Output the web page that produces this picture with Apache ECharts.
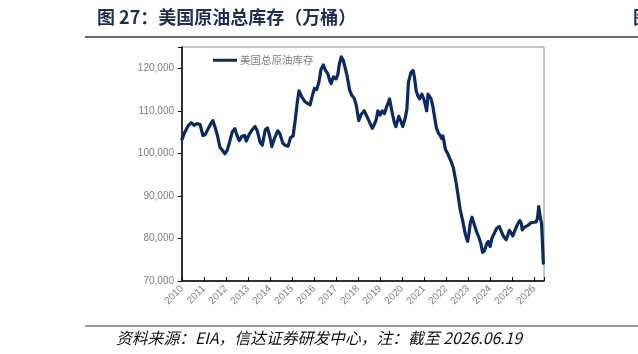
<!DOCTYPE html>
<html>
<head>
<meta charset="utf-8">
<script src="https://cdn.jsdelivr.net/npm/echarts@6/dist/echarts.min.js"></script>
<style>
  html, body { margin: 0; padding: 0; background: #fff; }
  #stock { width: 638px; height: 354px; }
</style>
</head>
<body>
<div id="stock"></div>
<script>
// 时间（以年为单位的小数）与美国原油总库存（万桶）
const dateYears = [
  2010.00, 2010.12, 2010.28, 2010.42, 2010.55, 2010.68, 2010.82, 2010.95,
  2011.05, 2011.18, 2011.30, 2011.40, 2011.50, 2011.62, 2011.72, 2011.85, 2011.95,
  2012.05, 2012.15, 2012.28, 2012.40, 2012.50, 2012.60, 2012.72, 2012.85, 2012.92,
  2013.05, 2013.18, 2013.32, 2013.42, 2013.55, 2013.65, 2013.78, 2013.88, 2013.98,
  2014.08, 2014.20, 2014.35, 2014.45, 2014.58, 2014.72, 2014.82, 2014.93,
  2015.05, 2015.15, 2015.25, 2015.32, 2015.45, 2015.58, 2015.72, 2015.82, 2015.92,
  2016.02, 2016.12, 2016.22, 2016.32, 2016.42, 2016.52, 2016.62, 2016.72, 2016.78, 2016.88,
  2017.00, 2017.08, 2017.15, 2017.24, 2017.32, 2017.42, 2017.50, 2017.62, 2017.72, 2017.82, 2017.92,
  2018.03, 2018.15, 2018.28, 2018.42, 2018.55, 2018.65, 2018.72, 2018.83, 2018.90,
  2019.00, 2019.10, 2019.20, 2019.30, 2019.38, 2019.43, 2019.55, 2019.65, 2019.72, 2019.85, 2019.95,
  2020.03, 2020.15, 2020.22, 2020.29, 2020.40, 2020.50, 2020.56, 2020.64, 2020.72, 2020.80, 2020.90,
  2021.00, 2021.08, 2021.12, 2021.18, 2021.26, 2021.32, 2021.40, 2021.48, 2021.56, 2021.65, 2021.72, 2021.80, 2021.86, 2021.97,
  2022.07, 2022.15, 2022.25, 2022.33, 2022.43, 2022.53, 2022.64, 2022.76, 2022.88, 2022.98,
  2023.05, 2023.10, 2023.18, 2023.28, 2023.38, 2023.50, 2023.58, 2023.66, 2023.75, 2023.85, 2023.92,
  2024.00, 2024.08, 2024.20, 2024.30, 2024.42, 2024.48, 2024.57, 2024.65, 2024.73, 2024.82, 2024.88, 2024.95,
  2025.03, 2025.12, 2025.20, 2025.28, 2025.35, 2025.42, 2025.46, 2025.55, 2025.62, 2025.70, 2025.78, 2025.86, 2025.92,
  2026.00, 2026.10, 2026.16, 2026.21, 2026.26, 2026.30, 2026.34, 2026.42
];
const stocks = [
  103300, 104900, 106500, 107200, 106600, 107000, 106800, 104200,
  104400, 105700, 106900, 107700, 106200, 104000, 101500, 100600, 99900,
  100700, 102400, 105000, 105800, 104200, 103000, 104000, 104200, 102900,
  104400, 105500, 106300, 105300, 102600, 101900, 105500, 106000, 104200,
  101600, 103500, 105300, 104600, 102400, 101800, 101700, 103700,
  104100, 108000, 112500, 114700, 113200, 112200, 111700, 111400, 113500,
  115300, 115000, 116700, 119800, 120800, 119500, 118800, 117000, 116400, 118000,
  117500, 118500, 121000, 122700, 122000, 120000, 118300, 114800, 113600, 113000, 111300,
  107700, 109200, 110000, 108500, 107000, 105900, 106600, 108000, 110000,
  109000, 110000, 109300, 111000, 112000, 112800, 109600, 107200, 106300, 108700, 107500,
  106300, 108400, 110500, 116700, 119000, 119500, 118000, 114700, 113500, 112800, 113900,
  112600, 112500, 110000, 113900, 113500, 112800, 111000, 108500, 106000, 104800, 104300, 103500, 104100, 100900,
  100000, 99000, 97800, 96600, 93900, 90700, 86800, 84000, 80900, 79300,
  81500, 83600, 85000, 83300, 81700, 80100, 78800, 76700, 77200, 78800, 79300,
  78100, 80000, 81300, 82400, 82800, 83100, 80900, 80200, 79700, 81000, 81900, 81300,
  80600, 81800, 82800, 83600, 84200, 83500, 82000, 82600, 82500, 83000, 82800, 83700, 84000,
  83800, 83900, 85000, 87500, 87200, 84400, 83600, 74200
];
const yTicks = [70000, 80000, 90000, 100000, 110000, 120000];

let myChart = echarts.init(document.getElementById("stock"));
const axisColor = "#000";
const labelColor = "#7f7f7f";
let seriesData = dateYears.map((t, i) => [t, stocks[i]]);

let option = {
  animation: false,
  textStyle: { fontFamily: "Liberation Sans, Arial, sans-serif" },
  grid: {
    left: 182,
    top: 47,
    right: 94,
    bottom: 73,
    show: true,
    borderColor: "#8c8c8c",
    borderWidth: 1
  },
  graphic: [
    {
      type: "text",
      left: 97,
      top: 8,
      style: {
        text: "图 27：美国原油总库存（万桶）",
        font: "bold 18px 'Noto Sans CJK SC', sans-serif",
        fill: "#1f2f54"
      }
    },
    {
      type: "text",
      left: 633,
      top: 8,
      style: {
        text: "图",
        font: "bold 18px 'Noto Sans CJK SC', sans-serif",
        fill: "#1f2f54"
      }
    },
    {
      type: "line",
      shape: { x1: 85, y1: 37, x2: 638, y2: 37 },
      style: { stroke: "#3a3a3a", lineWidth: 1.5 }
    },
    {
      type: "line",
      shape: { x1: 85, y1: 326, x2: 638, y2: 326 },
      style: { stroke: "#3a3a3a", lineWidth: 1.2 }
    },
    {
      type: "text",
      left: 116,
      top: 330,
      style: {
        text: "资料来源：EIA，信达证券研发中心，注：截至 2026.06.19",
        font: "italic 15.8px 'Noto Sans CJK SC', sans-serif",
        fill: "#111"
      }
    }
  ],
  legend: {
    left: 208,
    top: 50,
    icon: "rect",
    itemWidth: 24,
    itemHeight: 3,
    itemGap: 4,
    textStyle: {
      color: labelColor,
      fontSize: 10.5,
      fontFamily: "'Noto Sans CJK SC', sans-serif",
      padding: [0, 0, 0, -2]
    },
    data: ["美国总原油库存"]
  },
  xAxis: {
    type: "value",
    min: 2010,
    max: 2026.45,
    interval: 1,
    splitLine: { show: false },
    axisLine: { lineStyle: { color: axisColor, width: 1.5 } },
    axisTick: { inside: true, length: 4, lineStyle: { color: axisColor } },
    axisLabel: {
      rotate: 45,
      color: labelColor,
      fontSize: 10,
      margin: 6,
      formatter: v => (Math.abs(v - Math.round(v)) < 1e-6 ? String(Math.round(v)) : "")
    }
  },
  yAxis: {
    type: "value",
    min: yTicks[0],
    max: 125000,
    interval: yTicks[1] - yTicks[0],
    splitLine: { show: false },
    axisLine: { show: true, lineStyle: { color: axisColor, width: 1.5 } },
    axisTick: { show: true, length: 4, lineStyle: { color: axisColor } },
    axisLabel: {
      color: labelColor,
      fontSize: 10,
      margin: 8,
      formatter: v => (yTicks.indexOf(v) >= 0 ? v.toLocaleString("en-US") : "")
    }
  },
  series: [
    {
      name: "美国总原油库存",
      type: "line",
      data: seriesData,
      showSymbol: false,
      smooth: false,
      color: "#0a2a66",
      lineStyle: { width: 3.2, color: "#0a2a66", join: "round", cap: "round" }
    }
  ]
};
myChart.setOption(option);
</script>
</body>
</html>
